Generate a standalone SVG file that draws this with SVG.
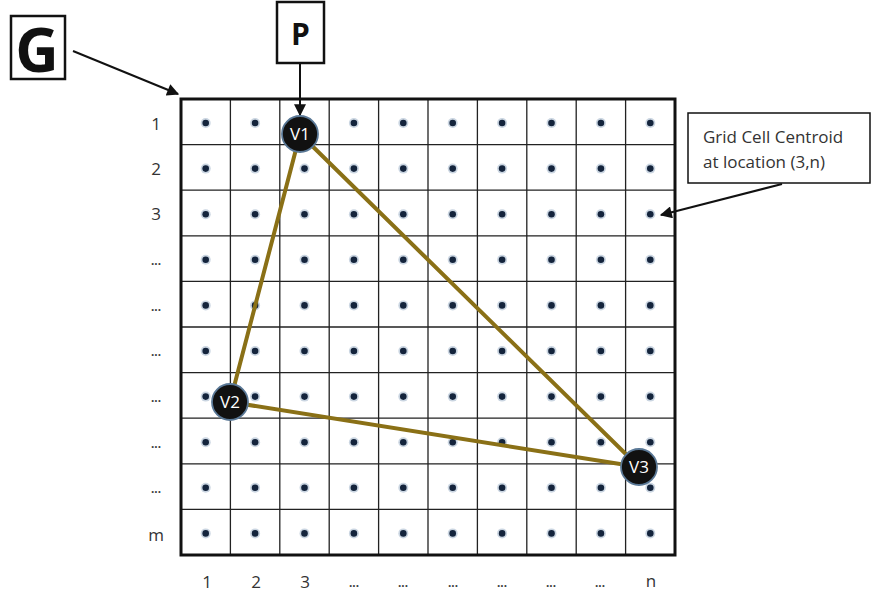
<svg xmlns="http://www.w3.org/2000/svg" width="872" height="596" viewBox="0 0 872 596">
  <defs>
    <marker id="arrow" viewBox="0 0 10 10" refX="9" refY="5" markerWidth="6.5" markerHeight="6" orient="auto" markerUnits="strokeWidth">
      <path d="M0,0 L10,5 L0,10 z" fill="#111"/>
    </marker>
    <g id="dot">
      <circle r="5" fill="#9fb3c8" opacity="0.55"/>
      <circle r="3.3" fill="#14243c"/>
    </g>
  </defs>
  <style>
    .grid { stroke: #222; stroke-width: 1.3; fill: none; }
    .frame { stroke: #111; stroke-width: 3; fill: none; }
    .lbl { font-family: "Open Sans", "Liberation Sans", sans-serif; font-size: 17px; fill: #333; text-anchor: middle; }
    .ell { font-family: "Liberation Sans", sans-serif; font-size: 12px; font-weight: bold; fill: #444; text-anchor: middle; }
    .edge { stroke: #8a7016; stroke-width: 4; fill: none; stroke-linecap: round; }
    .vert circle { fill: #111; stroke: #5a7896; stroke-width: 1.8; }
    .vert text { font-family: "Open Sans", "Liberation Sans", sans-serif; font-size: 17px; fill: #fff; text-anchor: middle; }
    .box { fill: #fff; stroke: #111; stroke-width: 2.5; }
    .conn { stroke: #111; stroke-width: 2; fill: none; marker-end: url(#arrow); }
    .note { font-family: "Open Sans", "Liberation Sans", sans-serif; font-size: 17px; fill: #333; }
  </style>
  <rect width="872" height="596" fill="#fff"/>

  <!-- grid G: 10 x 10 cells -->
  <g id="grid">
    <g class="grid">
      <path d="M230.4,99V555 M279.8,99V555 M329.2,99V555 M378.6,99V555 M428,99V555 M477.4,99V555 M526.8,99V555 M576.2,99V555 M625.6,99V555"/>
      <path d="M181,144.6H675 M181,190.2H675 M181,235.8H675 M181,281.4H675 M181,327H675 M181,372.6H675 M181,418.2H675 M181,463.8H675 M181,509.4H675"/>
    </g>
    <rect class="frame" x="181" y="99" width="494" height="456"/>
  </g>

  <!-- cell centroids -->
  <g id="centroids">
    <g transform="translate(0,123)">
      <use href="#dot" x="205.7"/><use href="#dot" x="255.1"/><use href="#dot" x="304.5"/><use href="#dot" x="353.9"/><use href="#dot" x="403.3"/><use href="#dot" x="452.7"/><use href="#dot" x="502.1"/><use href="#dot" x="551.5"/><use href="#dot" x="600.9"/><use href="#dot" x="650.3"/>
    </g>
    <g transform="translate(0,168.6)">
      <use href="#dot" x="205.7"/><use href="#dot" x="255.1"/><use href="#dot" x="304.5"/><use href="#dot" x="353.9"/><use href="#dot" x="403.3"/><use href="#dot" x="452.7"/><use href="#dot" x="502.1"/><use href="#dot" x="551.5"/><use href="#dot" x="600.9"/><use href="#dot" x="650.3"/>
    </g>
    <g transform="translate(0,214.2)">
      <use href="#dot" x="205.7"/><use href="#dot" x="255.1"/><use href="#dot" x="304.5"/><use href="#dot" x="353.9"/><use href="#dot" x="403.3"/><use href="#dot" x="452.7"/><use href="#dot" x="502.1"/><use href="#dot" x="551.5"/><use href="#dot" x="600.9"/><use href="#dot" x="650.3"/>
    </g>
    <g transform="translate(0,259.8)">
      <use href="#dot" x="205.7"/><use href="#dot" x="255.1"/><use href="#dot" x="304.5"/><use href="#dot" x="353.9"/><use href="#dot" x="403.3"/><use href="#dot" x="452.7"/><use href="#dot" x="502.1"/><use href="#dot" x="551.5"/><use href="#dot" x="600.9"/><use href="#dot" x="650.3"/>
    </g>
    <g transform="translate(0,305.4)">
      <use href="#dot" x="205.7"/><use href="#dot" x="255.1"/><use href="#dot" x="304.5"/><use href="#dot" x="353.9"/><use href="#dot" x="403.3"/><use href="#dot" x="452.7"/><use href="#dot" x="502.1"/><use href="#dot" x="551.5"/><use href="#dot" x="600.9"/><use href="#dot" x="650.3"/>
    </g>
    <g transform="translate(0,351)">
      <use href="#dot" x="205.7"/><use href="#dot" x="255.1"/><use href="#dot" x="304.5"/><use href="#dot" x="353.9"/><use href="#dot" x="403.3"/><use href="#dot" x="452.7"/><use href="#dot" x="502.1"/><use href="#dot" x="551.5"/><use href="#dot" x="600.9"/><use href="#dot" x="650.3"/>
    </g>
    <g transform="translate(0,396.6)">
      <use href="#dot" x="205.7"/><use href="#dot" x="255.1"/><use href="#dot" x="304.5"/><use href="#dot" x="353.9"/><use href="#dot" x="403.3"/><use href="#dot" x="452.7"/><use href="#dot" x="502.1"/><use href="#dot" x="551.5"/><use href="#dot" x="600.9"/><use href="#dot" x="650.3"/>
    </g>
    <g transform="translate(0,442.2)">
      <use href="#dot" x="205.7"/><use href="#dot" x="255.1"/><use href="#dot" x="304.5"/><use href="#dot" x="353.9"/><use href="#dot" x="403.3"/><use href="#dot" x="452.7"/><use href="#dot" x="502.1"/><use href="#dot" x="551.5"/><use href="#dot" x="600.9"/><use href="#dot" x="650.3"/>
    </g>
    <g transform="translate(0,487.8)">
      <use href="#dot" x="205.7"/><use href="#dot" x="255.1"/><use href="#dot" x="304.5"/><use href="#dot" x="353.9"/><use href="#dot" x="403.3"/><use href="#dot" x="452.7"/><use href="#dot" x="502.1"/><use href="#dot" x="551.5"/><use href="#dot" x="600.9"/><use href="#dot" x="650.3"/>
    </g>
    <g transform="translate(0,533.4)">
      <use href="#dot" x="205.7"/><use href="#dot" x="255.1"/><use href="#dot" x="304.5"/><use href="#dot" x="353.9"/><use href="#dot" x="403.3"/><use href="#dot" x="452.7"/><use href="#dot" x="502.1"/><use href="#dot" x="551.5"/><use href="#dot" x="600.9"/><use href="#dot" x="650.3"/>
    </g>
  </g>

  <!-- row labels -->
  <g id="row-labels">
    <text class="lbl" x="156" y="130">1</text>
    <text class="lbl" x="156" y="175">2</text>
    <text class="lbl" x="156" y="220">3</text>
    <text class="ell" x="156" y="265">...</text>
    <text class="ell" x="156" y="311">...</text>
    <text class="ell" x="156" y="356">...</text>
    <text class="ell" x="156" y="402">...</text>
    <text class="ell" x="156" y="448">...</text>
    <text class="ell" x="156" y="493">...</text>
    <text class="lbl" x="156" y="541">m</text>
  </g>

  <!-- column labels -->
  <g id="col-labels">
    <text class="lbl" x="207" y="588">1</text>
    <text class="lbl" x="256" y="588">2</text>
    <text class="lbl" x="305" y="588">3</text>
    <text class="ell" x="354" y="587">...</text>
    <text class="ell" x="403" y="587">...</text>
    <text class="ell" x="453" y="587">...</text>
    <text class="ell" x="502" y="587">...</text>
    <text class="ell" x="551" y="587">...</text>
    <text class="ell" x="600" y="587">...</text>
    <text class="lbl" x="651" y="587">n</text>
  </g>

  <!-- connectors -->
  <g id="connectors">
    <line class="edge" x1="300" y1="134" x2="230" y2="402"/>
    <line class="edge" x1="300" y1="134" x2="639" y2="467"/>
    <line class="edge" x1="230" y1="402" x2="639" y2="467"/>
    <line class="conn" x1="73" y1="51" x2="178" y2="94"/>
    <line class="conn" x1="300" y1="63" x2="300" y2="115"/>
    <line class="conn" x1="782" y1="184" x2="661" y2="215"/>
  </g>

  <!-- triangle vertices -->
  <g id="V1" class="vert"><circle cx="300" cy="134" r="18"/><text x="300" y="140">V1</text></g>
  <g id="V2" class="vert"><circle cx="230" cy="402" r="18"/><text x="230" y="408">V2</text></g>
  <g id="V3" class="vert"><circle cx="639" cy="467" r="18"/><text x="639" y="473">V3</text></g>

  <!-- G label -->
  <g id="G">
    <rect class="box" x="11" y="16" width="54" height="63"/>
    <text x="37" y="72" font-family="Open Sans, Liberation Sans, sans-serif" font-size="60" font-weight="bold" text-anchor="middle" fill="#111">G</text>
  </g>

  <!-- P label -->
  <g id="P">
    <rect class="box" x="277" y="2" width="47" height="61"/>
    <text x="300.5" y="45" font-family="Open Sans, Liberation Sans, sans-serif" font-size="30" font-weight="bold" text-anchor="middle" fill="#111">P</text>
  </g>

  <!-- centroid callout -->
  <g id="callout">
    <rect x="688" y="113" width="182" height="70" fill="#fff" stroke="#111" stroke-width="1.5"/>
    <text class="note" x="703" y="143">Grid Cell Centroid</text>
    <text class="note" x="703" y="168">at location (3,n)</text>
  </g>
</svg>
